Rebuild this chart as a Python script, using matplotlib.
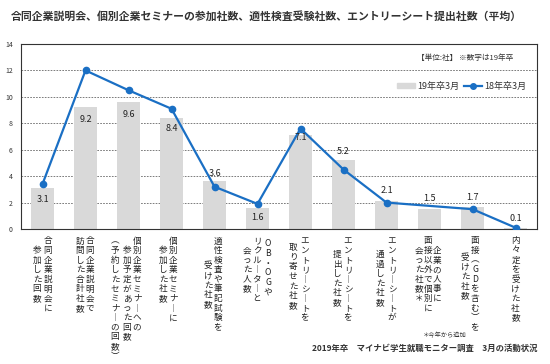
import numpy as np
import matplotlib.pyplot as plt
from matplotlib.patches import Patch
from matplotlib.lines import Line2D

plt.rcParams['font.family'] = ['Noto Sans CJK JP', 'DejaVu Sans']

title = '合同企業説明会、個別企業セミナーの参加社数、適性検査受験社数、エントリーシート提出社数（平均）'

# category labels, one list of columns (right to left) per category
cat_labels = [
    ['合同企業説明会に', '参加した回数'],
    ['合同企業説明会で', '訪問した合計社数'],
    ['個別企業セミナーへの', '参加予定があった回数', '（予約したセミナーの回数）'],
    ['個別企業セミナーに', '参加した社数'],
    ['適性検査や筆記試験を', '受けた社数'],
    ['OB・OGや', 'リクルーターと', '会った人数'],
    ['エントリーシートを', '取り寄せた社数'],
    ['エントリーシートを', '提出した社数'],
    ['エントリーシートが', '通過した社数'],
    ['企業の人事に', '面接以外で個別に', '会った社数＊'],
    ['面接（GDを含む）を', '受けた社数'],
    ['内々定を受けた社数'],
]

y19 = [3.1, 9.2, 9.6, 8.4, 3.6, 1.6, 7.1, 5.2, 2.1, 1.5, 1.7, 0.1]
y18 = [3.4, 12.0, 10.5, 9.1, 3.2, 1.9, 7.6, 4.5, 2.0, np.nan, 1.5, 0.1]

# layout of label columns: x offset (px) and drop (in characters)
col_dx = [[5.5, -5.5], [4.5, -5.5], [8.5, -1.5, -13.5], [1.5, -8.5], [3.5, -6.5],
          [10.5, -0.5, -10.5], [4.5, -7.5], [4.5, -6.5], [5.5, -6.5],
          [7.5, -1.5, -10.5], [2.5, -7.5], [0]]
col_drop = [[0, 1], [0, 0], [0, 1, 0], [0, 1], [0, 2.6], [0.3, 0, 1], [0, 0.7],
            [0, 1.4], [0, 1.4], [1, 0, 1], [0, 1.7], [0]]
label_dy = [-0.9, -0.9, -0.9, -0.8, 0.6, -0.7, -0.2, 0.7, 0.8, 0.8, 0.7, 0.7]

bar_color = '#d9d9d9'
line_color = '#1a6fc4'
text_color = '#333333'

fig = plt.figure(figsize=(5.5, 3.64), dpi=100)
ax = fig.add_axes([21 / 550, 1 - 229 / 364, 516 / 550, 185 / 364])

x = np.arange(len(y19))
ax.bar(x, y19, width=0.52, color=bar_color, zorder=2)

y18a = np.array(y18)
ok = ~np.isnan(y18a)
ax.plot(x[ok], y18a[ok], color=line_color, lw=1.6, marker='o', ms=4.5, zorder=3)

for i, v in enumerate(y19):
    ax.text(i, v + label_dy[i], f'{v:.1f}', ha='center', va='center',
            fontsize=6.5, color='#222222', zorder=4)

ax.set_xlim(-0.5, len(x) - 0.5)
ax.set_ylim(0, 14)
ax.set_yticks(range(0, 15, 2))
ax.tick_params(axis='y', length=0, labelsize=5, pad=6, colors=text_color)
ax.set_xticks([])
ax.grid(axis='y', ls=(0, (2, 1.5)), color='#666666', lw=0.6, zorder=1)
for s in ax.spines.values():
    s.set_color('#333333')
    s.set_linewidth(0.8)

# vertical Japanese labels
vert = {'ー': '︱', '（': '︵', '）': '︶'}
px = 72 / 100
step = 9.6 * px
top = 12 * px
for i, cols in enumerate(cat_labels):
    for j, col in enumerate(cols):
        for k, ch in enumerate(col):
            ax.annotate(vert.get(ch, ch), xy=(i, 0), xycoords=('data', 'axes fraction'),
                        xytext=(col_dx[i][j] * px, -(top + (k + col_drop[i][j]) * step)),
                        textcoords='offset points', ha='center', va='center',
                        fontsize=6.2, color='#222222', annotation_clip=False)

# unit note and legend
ax.text(0.86, 0.925, '【単位:社】 ※数字は19年卒', transform=ax.transAxes,
        ha='center', va='center', fontsize=5.5, color=text_color)
handles = [Patch(color=bar_color),
           Line2D([], [], color=line_color, lw=1.6, marker='o', ms=4)]
ax.legend(handles, ['19年卒3月', '18年卒3月'], loc='upper right',
          bbox_to_anchor=(0.995, 0.84), frameon=False, ncol=2, fontsize=6.5,
          handlelength=2.0, handleheight=0.5, handletextpad=0.2, columnspacing=0.6,
          labelcolor=text_color)

fig.text(11 / 550, 1 - 16 / 364, title, ha='left', va='center', fontsize=7.8,
         fontweight='bold', color=text_color)
fig.text(445 / 550, 1 - 335 / 364, '＊今年から追加', ha='center', va='center',
         fontsize=4.5, color=text_color)
fig.text(537 / 550, 1 - 348 / 364, '2019年卒　マイナビ学生就職モニター調査　3月の活動状況',
         ha='right', va='center', fontsize=6, fontweight='bold', color=text_color)

fig.savefig('out.png', dpi=100)
